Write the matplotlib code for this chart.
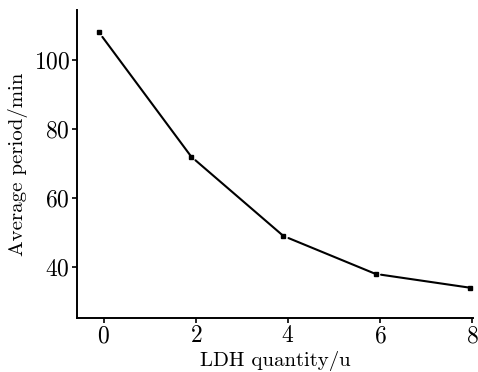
import matplotlib
matplotlib.use("Agg")
import matplotlib.pyplot as plt

x_vals = [-0.1, 1.9, 3.9, 5.9, 7.95]
y_vals = [108, 72, 49, 38, 34]
x_ticks = [0, 2, 4, 6, 8]
y_ticks = [40, 60, 80, 100]

plt.rcParams['font.family'] = ['cmr10', 'DejaVu Serif']
plt.rcParams['axes.formatter.use_mathtext'] = True
plt.rcParams['mathtext.fontset'] = 'cm'

fig = plt.figure(figsize=(4.78, 3.72), dpi=100)
ax = fig.add_axes([0.161, 0.145, 0.829, 0.828])

for i in range(len(x_vals) - 1):
    ax.annotate('', xy=(x_vals[i + 1], y_vals[i + 1]), xytext=(x_vals[i], y_vals[i]),
                arrowprops=dict(arrowstyle='-', color='black', lw=1.5,
                                shrinkA=4, shrinkB=0))
ax.plot(x_vals, y_vals, linestyle='none', marker='s', markersize=3.5,
        color='black')

ax.set_xlim(-0.58, 8.02)
ax.set_ylim(25.2, 114.5)
ax.set_xticks(x_ticks)
ax.set_yticks(y_ticks)
ax.spines['top'].set_visible(False)
ax.spines['right'].set_visible(False)
for s in ('left', 'bottom'):
    ax.spines[s].set_linewidth(1.4)
ax.tick_params(direction='out', length=3.5, width=1.2, labelsize=17, pad=1.5)
ax.set_xlabel('LDH quantity/u', fontsize=15, labelpad=2.5)
ax.set_ylabel('Average period/min', fontsize=15, labelpad=4)

fig.savefig('out.png', dpi=100)
